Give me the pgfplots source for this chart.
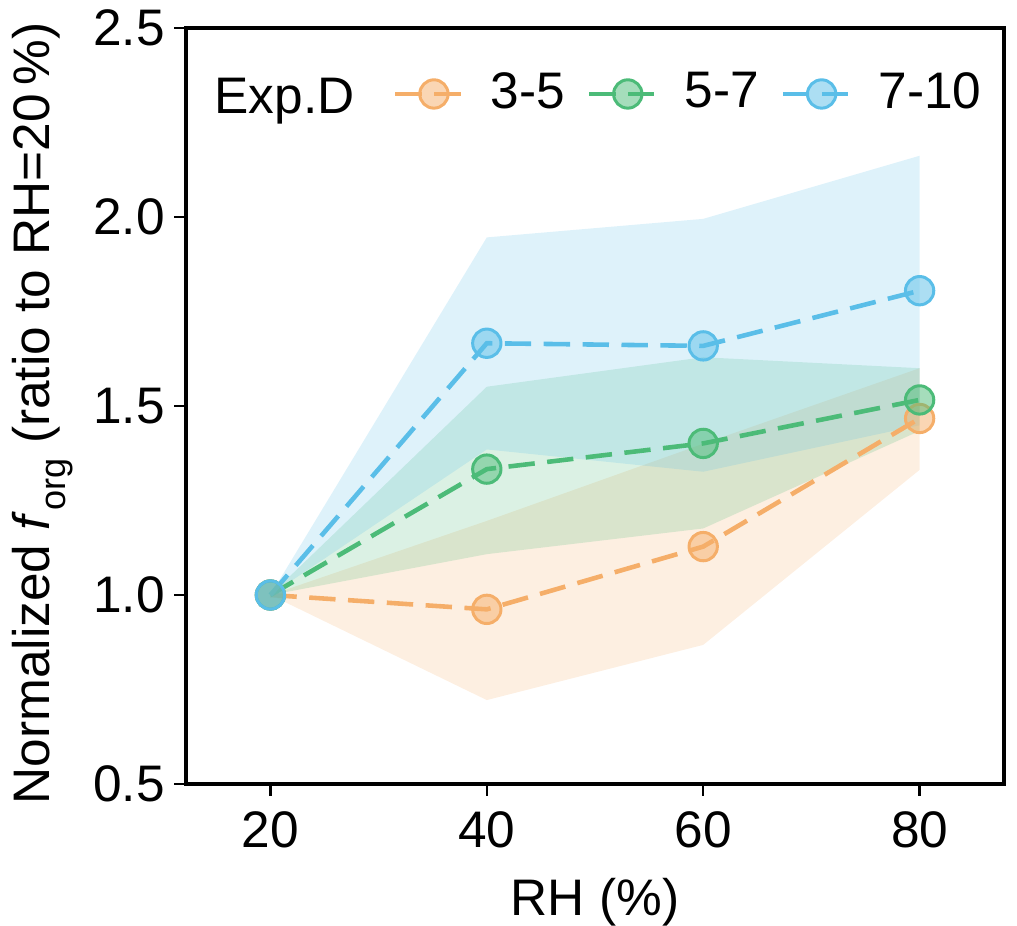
\documentclass[border=0pt]{standalone}
\usepackage{fontspec}
\setmainfont{Liberation Sans}
\usepackage{pgfplots}
\pgfplotsset{compat=1.18}
\definecolor{cor}{RGB}{245,174,105}
\definecolor{cgr}{RGB}{76,187,120}
\definecolor{cbl}{RGB}{90,190,232}
\begin{document}
\fontsize{18.5}{22}\selectfont
\begin{tikzpicture}
\begin{axis}[
  at={(0,0)}, anchor=south west,
  scale only axis, width=294.48pt, height=272.16pt,
  xmin=12.2, xmax=87.8, ymin=0.5, ymax=2.5,
  xtick={20,40,60,80}, ytick={0.5,1.0,1.5,2.0,2.5},
  /pgf/number format/assume math mode=true,
  tick align=outside, xtick pos=bottom, ytick pos=left,
  major tick length=4.3pt,
  every tick/.style={black, line width=0.9pt},
  axis line style={line width=1.2pt},
  tick label style={font=\fontsize{18.5}{22}\selectfont},
  xticklabel style={anchor=north, inner sep=0pt, yshift=-5.6pt},
  yticklabel style={anchor=east, inner sep=0pt, xshift=-3.2pt, /pgf/number format/fixed, /pgf/number format/fixed zerofill, /pgf/number format/precision=1},
  xlabel={RH (\%)},
  xlabel style={at={(axis description cs:0.5,0)}, anchor=base, yshift=-47.2pt, inner sep=0pt},
  ylabel={Normalized \textit{f}\kern0.5pt\raisebox{-0.3em}{\fontsize{13}{14}\selectfont org} (ratio to RH=20\,\%)},
  ylabel style={at={(axis description cs:-0.1663,0.49)}, anchor=base, inner sep=0pt},
  label style={font=\fontsize{18.5}{22}\selectfont},
  legend columns=3,
  legend style={draw=none, fill=none, at={(axis description cs:0.2531,0.9127)}, anchor=west,
    inner sep=0pt, outer sep=0pt, font=\fontsize{18.5}{22}\selectfont,
    nodes={inner sep=0pt},
    /tikz/every odd column/.append style={column sep=5.8pt},
    /tikz/every even column/.append style={column sep=7.8pt}},
  legend image code/.code={\draw[mark repeat=2,mark phase=2] plot coordinates {(0pt,0pt)(13.9pt,0pt)(27.8pt,0pt)};},
  clip=false,
]
% bands
\addplot[draw=none, fill=cor, fill opacity=0.2, forget plot] coordinates {(20,1.0)(40,1.196)(60,1.40)(80,1.60)(80,1.331)(60,0.868)(40,0.722)(20,1.0)} -- cycle;
\addplot[draw=none, fill=cgr, fill opacity=0.2, forget plot] coordinates {(20,1.0)(40,1.551)(60,1.629)(80,1.60)(80,1.434)(60,1.176)(40,1.108)(20,1.0)} -- cycle;
\addplot[draw=none, fill=cbl, fill opacity=0.2, forget plot] coordinates {(20,1.0)(40,1.946)(60,1.995)(80,2.162)(80,1.449)(60,1.326)(40,1.385)(20,1.0)} -- cycle;
% lines
\addplot[cor, line width=1.65pt, dash pattern=on 9.5pt off 4.5pt, mark=*, mark size=5.1pt,
  mark options={solid, draw=cor, fill=cor, fill opacity=0.5, line width=1.08pt}]
  coordinates {(20,1.0)(40,0.962)(60,1.128)(80,1.467)};
\addlegendentry{3-5}
\addplot[cgr, line width=1.65pt, dash pattern=on 9.5pt off 4.5pt, mark=*, mark size=5.1pt,
  mark options={solid, draw=cgr, fill=cgr, fill opacity=0.5, line width=1.08pt}]
  coordinates {(20,1.0)(40,1.333)(60,1.401)(80,1.516)};
\addlegendentry{5-7}
\addplot[cbl, line width=1.65pt, dash pattern=on 9.5pt off 4.5pt, mark=*, mark size=5.1pt,
  mark options={solid, draw=cbl, fill=cbl, fill opacity=0.5, line width=1.08pt}]
  coordinates {(20,1.0)(40,1.666)(60,1.659)(80,1.805)};
\addlegendentry{7-10}
\node[anchor=base west, inner sep=0pt, font=\fontsize{18.5}{22}\selectfont] at (axis description cs:0.0342,0.8872) {Exp.D};
\end{axis}
\pgfresetboundingbox
\useasboundingbox (-66.96pt,-51.12pt) rectangle (299.16pt,282.24pt);
\end{tikzpicture}
\end{document}
